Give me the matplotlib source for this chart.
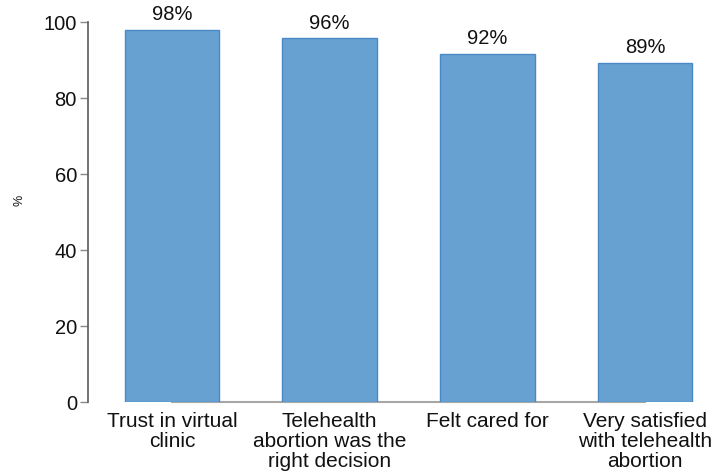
import matplotlib.pyplot as plt

plt.rcParams['font.family'] = ['Liberation Sans', 'DejaVu Sans']

categories = ["Trust in virtual\nclinic",
              "Telehealth\nabortion was the\nright decision",
              "Felt cared for",
              "Very satisfied\nwith telehealth\nabortion"]
values = [98.0, 95.7, 91.7, 89.3]
labels = ["98%", "96%", "92%", "89%"]

fig = plt.figure(figsize=(7.25, 4.72), dpi=100)
ax = fig.add_axes([88 / 725, 70 / 472, 637 / 725, 380 / 472])

x = list(range(len(categories)))
bars = ax.bar(x, values, width=0.6, color='#67a1d2', edgecolor='#4a89c8',
              linewidth=1.0, zorder=2)

for b, lab in zip(bars, labels):
    ax.text(b.get_x() + b.get_width() / 2, b.get_height() + 1.5, lab,
            ha='center', va='bottom', fontsize=14.5, color='#111111')

ax.set_xlim(-0.533, 3.507)
ax.set_ylim(0, 100)
ax.set_yticks([0, 20, 40, 60, 80, 100])
ax.set_xticks(x)
ax.set_xticklabels(categories, fontsize=15, color='#111111', linespacing=1.08,
                   va='top')
ax.tick_params(axis='x', length=0, pad=7)
ax.tick_params(axis='y', length=6, width=1, color='#888888', labelsize=14.5,
               labelcolor='#111111', pad=2)

ax.spines['top'].set_visible(False)
ax.spines['right'].set_visible(False)
ax.spines['left'].set_color('#5a5a5a')
ax.spines['left'].set_linewidth(1.2)
ax.spines['bottom'].set_color('#a6a6a6')
ax.spines['bottom'].set_linewidth(1.5)
ax.spines['bottom'].set_bounds(0, 3)
ax.spines['bottom'].set_zorder(1)

ax.set_ylabel("%", fontsize=9, color='#111111')
ax.yaxis.set_label_coords(-0.098, 0.53)

fig.savefig("out.png", dpi=100)
plt.close(fig)
